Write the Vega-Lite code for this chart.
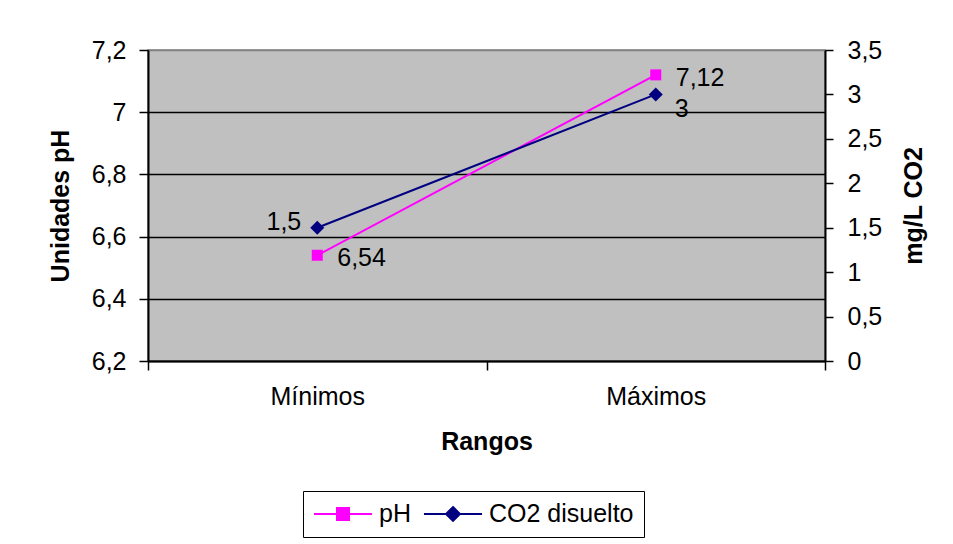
{
  "$schema": "https://vega.github.io/schema/vega-lite/v6.json",
  "width": 677,
  "height": 311,
  "autosize": {"type": "none"},
  "padding": {"left": 148, "top": 50, "right": 128, "bottom": 183},
  "background": "white",
  "data": {
    "values": [
      {"rango": "Mínimos", "serie": "pH", "valor": 6.54},
      {"rango": "Máximos", "serie": "pH", "valor": 7.12},
      {"rango": "Mínimos", "serie": "CO2 disuelto", "valor": 1.5},
      {"rango": "Máximos", "serie": "CO2 disuelto", "valor": 3}
    ]
  },
  "encoding": {
    "x": {
      "field": "rango",
      "type": "nominal",
      "sort": ["Mínimos", "Máximos"],
      "scale": {"type": "band", "paddingInner": 0, "paddingOuter": 0},
      "axis": {
        "title": "Rangos",
        "labelAngle": 0,
        "tickBand": "extent",
        "tickSize": 9,
        "labelPadding": 14,
        "titlePadding": 20
      }
    },
    "color": {
      "field": "serie",
      "type": "nominal",
      "scale": {"domain": ["pH", "CO2 disuelto"], "range": ["#FF00FF", "#000080"]},
      "legend": {
        "orient": "none",
        "legendX": 155,
        "legendY": 441,
        "direction": "horizontal",
        "title": null,
        "strokeColor": "black",
        "fillColor": "white",
        "padding": 10,
        "labelFont": "Liberation Sans",
        "labelFontSize": 25,
        "labelColor": "black",
        "symbolSize": 576,
        "symbolOffset": 17,
        "labelOffset": 23,
        "columnPadding": 8,
        "symbolStrokeWidth": 2,
        "encode": {
          "symbols": {
            "update": {
              "shape": {"signal": "datum.value === 'pH' ? 'M-2.42,0H2.42M-0.5,-0.5H0.5V0.5H-0.5Z' : 'M-2.42,0H2.42M0,-0.58L0.58,0L0,0.58L-0.58,0Z'"},
              "fill": {"signal": "datum.value === 'pH' ? '#FF00FF' : '#000080'"},
              "stroke": {"signal": "datum.value === 'pH' ? '#FF00FF' : '#000080'"},
              "strokeWidth": {"value": 2},
              "opacity": {"value": 1}
            }
          }
        }
      }
    }
  },
  "layer": [
    {
      "transform": [{"filter": "datum.serie === 'pH'"}],
      "encoding": {
        "y": {
          "field": "valor",
          "type": "quantitative",
          "scale": {"domain": [6.2, 7.2], "nice": false, "zero": false},
          "axis": {
            "orient": "left",
            "title": "Unidades pH",
            "values": [6.2, 6.4, 6.6, 6.8, 7, 7.2],
            "format": ".1~f",
            "grid": true,
            "gridColor": {"condition": {"test": "datum.value >= 7.15", "value": "#808080"}, "value": "black"},
            "gridWidth": 1.5,
            "tickSize": 9,
            "labelPadding": 13,
            "titlePadding": 18
          }
        }
      },
      "layer": [
        {"mark": {"type": "line", "strokeWidth": 2}},
        {"mark": {"type": "point", "filled": true, "shape": "square", "size": 121, "opacity": 1}},
        {
          "mark": {"type": "text", "align": "left", "baseline": "middle", "dx": 20, "dy": 3, "fontSize": 25},
          "encoding": {
            "text": {"field": "valor", "type": "quantitative", "format": ".2~f"},
            "color": {"value": "black"}
          }
        }
      ]
    },
    {
      "transform": [{"filter": "datum.serie === 'CO2 disuelto'"}],
      "encoding": {
        "y": {
          "field": "valor",
          "type": "quantitative",
          "scale": {"domain": [0, 3.5], "nice": false},
          "axis": {
            "orient": "right",
            "title": "mg/L CO2",
            "titleAngle": 270,
            "titleBaseline": "top",
            "values": [0, 0.5, 1, 1.5, 2, 2.5, 3, 3.5],
            "format": ".1~f",
            "grid": false,
            "tickSize": 8,
            "labelPadding": 14,
            "titlePadding": 20
          }
        }
      },
      "layer": [
        {"mark": {"type": "line", "strokeWidth": 2}},
        {"mark": {"type": "point", "filled": true, "shape": "diamond", "size": 196, "opacity": 1}},
        {
          "transform": [{"filter": "datum.rango === 'Mínimos'"}],
          "mark": {"type": "text", "align": "right", "baseline": "middle", "dx": -16, "dy": -6, "fontSize": 25},
          "encoding": {
            "text": {"field": "valor", "type": "quantitative", "format": ".2~f"},
            "color": {"value": "black"}
          }
        },
        {
          "transform": [{"filter": "datum.rango === 'Máximos'"}],
          "mark": {"type": "text", "align": "left", "baseline": "middle", "dx": 19, "dy": 15, "fontSize": 25},
          "encoding": {
            "text": {"field": "valor", "type": "quantitative", "format": ".2~f"},
            "color": {"value": "black"}
          }
        }
      ]
    }
  ],
  "resolve": {"scale": {"y": "independent"}, "axis": {"y": "independent"}},
  "config": {
    "font": "Liberation Sans",
    "locale": {"number": {"decimal": ",", "thousands": ".", "grouping": [3], "currency": ["", " €"]}},
    "view": {"fill": "#C0C0C0", "stroke": "#808080", "strokeWidth": 1.5},
    "text": {"font": "Liberation Sans"},
    "axis": {
      "labelFont": "Liberation Sans",
      "labelFontSize": 25,
      "labelColor": "black",
      "titleFont": "Liberation Sans",
      "titleFontSize": 25,
      "titleFontWeight": "bold",
      "titleColor": "black",
      "domainColor": "black",
      "domainWidth": 2,
      "tickColor": "black",
      "tickWidth": 1.5
    }
  }
}
